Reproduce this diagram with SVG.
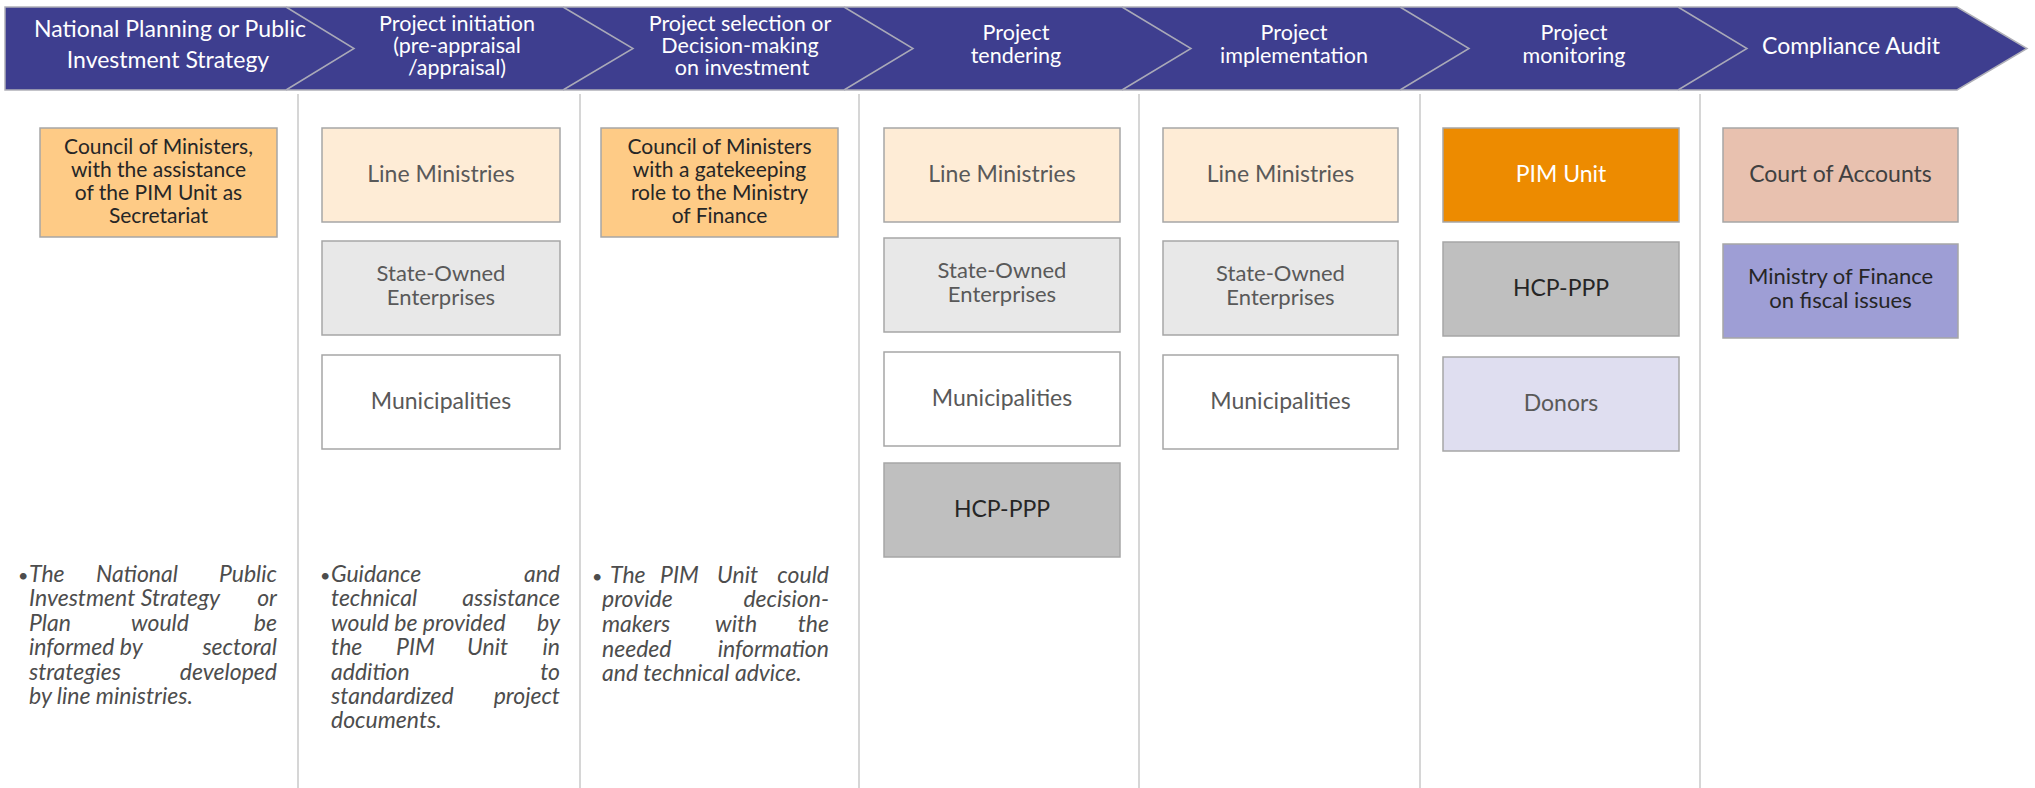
<svg xmlns="http://www.w3.org/2000/svg" width="2035" height="788" viewBox="0 0 2035 788">
<style>
.hdr{font-family:Lato,"Liberation Sans",sans-serif;font-size:21.5px;fill:#ffffff;text-anchor:middle}
.box{stroke:#a6a6a6;stroke-width:1.5}
.bt{font-family:Lato,"Liberation Sans",sans-serif;font-size:23px;fill:#595959;text-anchor:middle}
.sm{font-size:22px}
.xs{font-size:21px}
.dk{fill:#262626}
.note{font-family:Lato,"Liberation Sans",sans-serif;font-size:23px;font-style:italic;fill:#4d4d4d}
.sep{stroke:#c8c8c8;stroke-width:1.5}
.chev{fill:none;stroke:#a9a9b8;stroke-width:1.5}
</style>
<rect width="2035" height="788" fill="#ffffff"/>
<g id="header">
<polygon points="5,7 1957,7 2027,48.5 1957,90 5,90" fill="#3e3e8f" stroke="#b0b0b8" stroke-width="1.5"/>
<polyline class="chev" points="286,7 354,48.5 286,90"/>
<polyline class="chev" points="563,7 633,48.5 563,90"/>
<polyline class="chev" points="844,7 913,48.5 844,90"/>
<polyline class="chev" points="1122,7 1191,48.5 1122,90"/>
<polyline class="chev" points="1400,7 1469,48.5 1400,90"/>
<polyline class="chev" points="1678,7 1747,48.5 1678,90"/>
<text class="hdr" style="font-size:23px"><tspan x="170" y="37">National Planning or Public</tspan><tspan x="168" y="68">Investment Strategy</tspan></text>
<text class="hdr"><tspan x="457" y="31">Project initiation</tspan><tspan x="457" y="53">(pre-appraisal</tspan><tspan x="457" y="75">/appraisal)</tspan></text>
<text class="hdr"><tspan x="740" y="31">Project selection or</tspan><tspan x="740" y="53">Decision-making</tspan><tspan x="742" y="75">on investment</tspan></text>
<text class="hdr"><tspan x="1016" y="40">Project</tspan><tspan x="1016" y="63">tendering</tspan></text>
<text class="hdr"><tspan x="1294" y="40">Project</tspan><tspan x="1294" y="63">implementation</tspan></text>
<text class="hdr"><tspan x="1574" y="40">Project</tspan><tspan x="1574" y="63">monitoring</tspan></text>
<text class="hdr" x="1851" y="54" style="font-size:23px">Compliance Audit</text>
</g>
<g id="connectors">
<line class="sep" x1="298" y1="94" x2="298" y2="788"/>
<line class="sep" x1="580" y1="94" x2="580" y2="788"/>
<line class="sep" x1="859" y1="94" x2="859" y2="788"/>
<line class="sep" x1="1139" y1="94" x2="1139" y2="788"/>
<line class="sep" x1="1420" y1="94" x2="1420" y2="788"/>
<line class="sep" x1="1700" y1="94" x2="1700" y2="788"/>
</g>
<g id="c1-council">
<rect class="box" x="40" y="128" width="237" height="109" fill="#fecb86"/>
<text class="bt xs dk"><tspan x="158.5" y="154">Council of Ministers,</tspan><tspan x="158.5" y="177">with the assistance</tspan><tspan x="158.5" y="200">of the PIM Unit as</tspan><tspan x="158.5" y="223">Secretariat</tspan></text>
</g>
<g id="c2-line">
<rect class="box" x="322" y="128" width="238" height="94" fill="#feecd6"/>
<text class="bt" x="441" y="182">Line Ministries</text>
</g>
<g id="c2-soe">
<rect class="box" x="322" y="241" width="238" height="94" fill="#e8e8e8"/>
<text class="bt sm"><tspan x="441" y="281">State-Owned</tspan><tspan x="441" y="305">Enterprises</tspan></text>
</g>
<g id="c2-mun">
<rect class="box" x="322" y="355" width="238" height="94" fill="#ffffff"/>
<text class="bt" x="441" y="409">Municipalities</text>
</g>
<g id="c3-council">
<rect class="box" x="601" y="128" width="237" height="109" fill="#fecb86"/>
<text class="bt xs dk"><tspan x="719.5" y="154">Council of Ministers</tspan><tspan x="719.5" y="177">with a gatekeeping</tspan><tspan x="719.5" y="200">role to the Ministry</tspan><tspan x="719.5" y="223">of  Finance</tspan></text>
</g>
<g id="c4-line">
<rect class="box" x="884" y="128" width="236" height="94" fill="#feecd6"/>
<text class="bt" x="1002" y="182">Line Ministries</text>
</g>
<g id="c4-soe">
<rect class="box" x="884" y="238" width="236" height="94" fill="#e8e8e8"/>
<text class="bt sm"><tspan x="1002" y="278">State-Owned</tspan><tspan x="1002" y="302">Enterprises</tspan></text>
</g>
<g id="c4-mun">
<rect class="box" x="884" y="352" width="236" height="94" fill="#ffffff"/>
<text class="bt" x="1002" y="406">Municipalities</text>
</g>
<g id="c4-hcp">
<rect class="box" x="884" y="463" width="236" height="94" fill="#bfbfbf"/>
<text class="bt dk" x="1002" y="517">HCP-PPP</text>
</g>
<g id="c5-line">
<rect class="box" x="1163" y="128" width="235" height="94" fill="#feecd6"/>
<text class="bt" x="1280.5" y="182">Line Ministries</text>
</g>
<g id="c5-soe">
<rect class="box" x="1163" y="241" width="235" height="94" fill="#e8e8e8"/>
<text class="bt sm"><tspan x="1280.5" y="281">State-Owned</tspan><tspan x="1280.5" y="305">Enterprises</tspan></text>
</g>
<g id="c5-mun">
<rect class="box" x="1163" y="355" width="235" height="94" fill="#ffffff"/>
<text class="bt" x="1280.5" y="409">Municipalities</text>
</g>
<g id="c6-pim">
<rect class="box" x="1443" y="128" width="236" height="94" fill="#ed8b00"/>
<text class="bt" x="1561" y="182" style="fill:#ffffff">PIM Unit</text>
</g>
<g id="c6-hcp">
<rect class="box" x="1443" y="242" width="236" height="94" fill="#bfbfbf"/>
<text class="bt dk" x="1561" y="296">HCP-PPP</text>
</g>
<g id="c6-donors">
<rect class="box" x="1443" y="357" width="236" height="94" fill="#dfdef0"/>
<text class="bt" x="1561" y="411">Donors</text>
</g>
<g id="c7-court">
<rect class="box" x="1723" y="128" width="235" height="94" fill="#e8c1af"/>
<text class="bt" x="1840.5" y="182" style="fill:#404040">Court of Accounts</text>
</g>
<g id="c7-mof">
<rect class="box" x="1723" y="244" width="235" height="94" fill="#9e9ed5"/>
<text class="bt sm dk"><tspan x="1840.5" y="284">Ministry of Finance</tspan><tspan x="1840.5" y="308">on fiscal issues</tspan></text>
</g>
<g id="note1" class="note">
<text x="18" y="582" style="font-size:18px">•</text>
<text y="582"><tspan x="29">The</tspan><tspan x="96">National</tspan><tspan x="277" text-anchor="end">Public</tspan></text>
<text y="606"><tspan x="29">Investment Strategy</tspan><tspan x="277" text-anchor="end">or</tspan></text>
<text y="631"><tspan x="29">Plan</tspan><tspan x="131">would</tspan><tspan x="277" text-anchor="end">be</tspan></text>
<text y="655"><tspan x="29">informed by</tspan><tspan x="277" text-anchor="end">sectoral</tspan></text>
<text y="680"><tspan x="29">strategies</tspan><tspan x="277" text-anchor="end">developed</tspan></text>
<text x="29" y="704">by line ministries.</text>
</g>
<g id="note2" class="note">
<text x="320" y="582" style="font-size:18px">•</text>
<text y="582"><tspan x="331">Guidance</tspan><tspan x="560" text-anchor="end">and</tspan></text>
<text y="606"><tspan x="331">technical</tspan><tspan x="560" text-anchor="end">assistance</tspan></text>
<text y="631"><tspan x="331">would be provided</tspan><tspan x="560" text-anchor="end">by</tspan></text>
<text y="655"><tspan x="331">the</tspan><tspan x="396">PIM</tspan><tspan x="467">Unit</tspan><tspan x="560" text-anchor="end">in</tspan></text>
<text y="680"><tspan x="331">addition</tspan><tspan x="560" text-anchor="end">to</tspan></text>
<text y="704"><tspan x="331">standardized</tspan><tspan x="560" text-anchor="end">project</tspan></text>
<text x="331" y="728">documents.</text>
</g>
<g id="note3" class="note">
<text x="592" y="583" style="font-size:18px">•</text>
<text y="583"><tspan x="610">The</tspan><tspan x="660">PIM</tspan><tspan x="717">Unit</tspan><tspan x="829" text-anchor="end">could</tspan></text>
<text y="607"><tspan x="602">provide</tspan><tspan x="829" text-anchor="end">decision-</tspan></text>
<text y="632"><tspan x="602">makers</tspan><tspan x="715">with</tspan><tspan x="829" text-anchor="end">the</tspan></text>
<text y="657"><tspan x="602">needed</tspan><tspan x="829" text-anchor="end">information</tspan></text>
<text x="602" y="681">and technical advice.</text>
</g>
</svg>
